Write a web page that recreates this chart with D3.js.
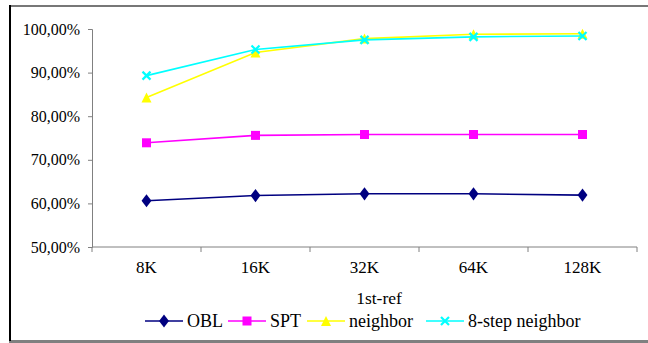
<!DOCTYPE html>
<html><head><meta charset="utf-8">
<script src="https://cdn.jsdelivr.net/npm/d3@7"></script>
<style>body{margin:0;background:#fff}svg{display:block}</style>
</head><body><svg id="c" width="648" height="343"></svg>
<script>
const categories = ["8K","16K","32K","64K","128K"];
const seriesNames = ["OBL","SPT","neighbor","8-step neighbor"];
const obl = [60.6, 61.8, 62.2, 62.2, 61.9];
const spt = [73.9, 75.6, 75.8, 75.8, 75.8];
const neighbor = [84.3, 94.6, 97.8, 98.8, 98.9];
const step8 = [89.3, 95.3, 97.5, 98.2, 98.4];
const yTicks = [50, 60, 70, 80, 90, 100];
const xTitle = "1st-ref";

(function(){
const FONT = '"Liberation Serif"';
const series = [
  {name: seriesNames[0], values: obl, color: "#000080", marker: "diamond"},
  {name: seriesNames[1], values: spt, color: "#ff00ff", marker: "square"},
  {name: seriesNames[2], values: neighbor, color: "#ffff00", marker: "triangle"},
  {name: seriesNames[3], values: step8, color: "#00ffff", marker: "x"}
];

const svg = d3.select("#c");
svg.append("line").attr("x1",9).attr("x2",648).attr("y1",6).attr("y2",6).attr("stroke","#777").attr("stroke-width",2);
svg.append("line").attr("x1",9).attr("x2",648).attr("y1",341.5).attr("y2",341.5).attr("stroke","#808080").attr("stroke-width",3);
svg.append("line").attr("x1",10).attr("x2",10).attr("y1",5).attr("y2",341).attr("stroke","#000").attr("stroke-width",2);

const pLeft = 92, pRight = 637, pTop = 29, pBottom = 247;
const x = d3.scaleBand().domain(categories).range([pLeft, pRight]);
const y = d3.scaleLinear().domain([50, 100]).range([pBottom, pTop]);

const yAxis = svg.append("g").attr("transform", `translate(${pLeft},0)`)
  .call(d3.axisLeft(y).tickValues(yTicks).tickSize(4).tickPadding(8)
    .tickFormat(d => d3.format(".2f")(d).replace(".", ",") + "%"));
yAxis.attr("font-family", FONT).attr("font-size", 16);
yAxis.selectAll("path,line").attr("stroke","#808080");
yAxis.selectAll("text").style("font-family", FONT).style("font-size","16px").attr("fill","#000");

const xAxis = svg.append("g").attr("transform", `translate(0,${pBottom})`)
  .call(d3.axisBottom(x).tickSize(0).tickPadding(15));
xAxis.attr("font-family", FONT).attr("font-size", 17);
xAxis.select("path").attr("stroke","#808080").attr("d", `M${pLeft},0H${pRight}`);
xAxis.selectAll("text").style("font-family", FONT).style("font-size","17px").attr("fill","#000").attr("dy","0.65em");
const bounds = categories.map(c => x(c) + x.bandwidth()).concat([pLeft]);
svg.append("g").selectAll("line").data(bounds).join("line")
  .attr("x1", d => d).attr("x2", d => d).attr("y1", pBottom).attr("y2", pBottom + 5)
  .attr("stroke","#808080");

svg.append("text").attr("x", 379).attr("y", 304).attr("text-anchor","middle")
  .style("font-family", FONT).style("font-size","17.5px").attr("fill","#000").text(xTitle);

function drawMarker(g, type, cx, cy, color) {
  if (type === "diamond") {
    g.append("path").attr("d", d3.symbol(d3.symbolDiamond, 50)()).attr("transform", `translate(${cx},${cy}) scale(1.3,1)`).attr("fill", color);
  } else if (type === "square") {
    g.append("rect").attr("x", cx-4.5).attr("y", cy-4.5).attr("width",9).attr("height",9).attr("fill", color);
  } else if (type === "triangle") {
    g.append("path").attr("d", `M${cx},${cy-5}L${cx+5},${cy+5}L${cx-5},${cy+5}Z`).attr("fill", color);
  } else {
    g.append("path").attr("d", `M${cx-4},${cy-4}L${cx+4},${cy+4}M${cx-4},${cy+4}L${cx+4},${cy-4}`).attr("stroke", color).attr("stroke-width",2.2);
  }
}

const line = d3.line().x((d,i) => x(categories[i]) + x.bandwidth()/2).y(d => y(d));
series.forEach(s => {
  const g = svg.append("g");
  g.append("path").attr("d", line(s.values)).attr("fill","none").attr("stroke", s.color).attr("stroke-width",1.6);
  s.values.forEach((v,i) => drawMarker(g, s.marker, x(categories[i]) + x.bandwidth()/2, y(v), s.color));
});

const legendX = [145, 228, 307, 426];
const legendY = 321;
series.forEach((s,i) => {
  const g = svg.append("g");
  const lx = legendX[i];
  g.append("line").attr("x1", lx).attr("x2", lx + 38).attr("y1", legendY).attr("y2", legendY).attr("stroke", s.color).attr("stroke-width",1.6);
  drawMarker(g, s.marker, lx + 19, legendY, s.color);
  g.append("text").attr("x", lx + 42).attr("y", legendY).attr("dy","0.35em")
    .style("font-family", FONT).style("font-size","18px").attr("fill","#000").text(s.name);
});
})();
</script></body></html>
